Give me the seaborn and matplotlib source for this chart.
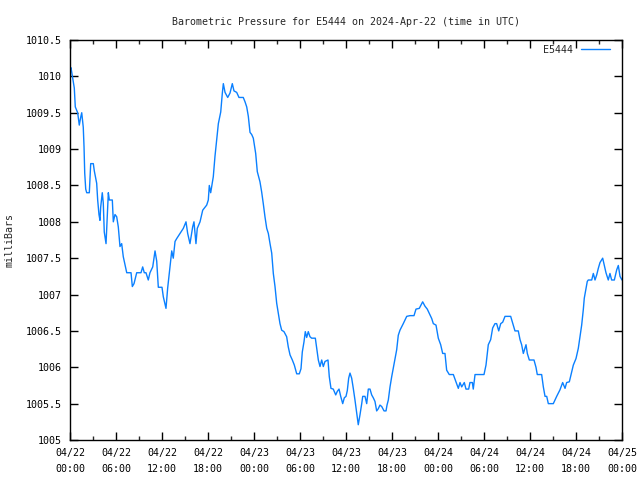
import matplotlib
matplotlib.use("Agg")
import matplotlib.pyplot as plt
import seaborn as sns
import pandas as pd

# hours since 2024-04-22 00:00 UTC
hours = [0.0, 0.13, 0.35, 0.56, 0.69, 1.0, 1.21, 1.4, 1.53, 1.73, 1.83, 1.92, 2.05, 2.18, 2.52, 2.61, 2.7, 3.04,
         3.17, 3.48, 3.61, 3.78, 3.91, 4.0, 4.21, 4.34, 4.47, 4.7, 4.92, 5.0, 5.13, 5.52, 5.65, 5.87, 6.09, 6.3,
         6.52, 6.74, 6.95, 7.17, 7.4, 7.96, 8.13, 8.35, 8.7, 9.26, 9.48, 9.69, 9.91, 10.21, 10.43, 10.79, 11.09,
         11.31, 11.44, 11.52, 12.0, 12.17, 12.52, 12.74, 13.04, 13.27, 13.47, 13.7, 13.92, 14.35, 14.78, 15.13,
         15.35, 15.65, 16.0, 16.17, 16.43, 16.6, 16.96, 17.31, 17.83, 18.04, 18.17, 18.35, 18.69, 18.91, 19.13,
         19.35, 19.66, 19.87, 20.0, 20.22, 20.57, 20.87, 21.17, 21.39, 21.74, 22.04, 22.6, 22.83, 23.05, 23.26,
         23.48, 23.7, 23.91, 24.22, 24.43, 24.78, 25.0, 25.21, 25.43, 25.66, 25.87, 26.09, 26.31, 26.52, 26.74,
         26.96, 27.17, 27.39, 27.61, 27.91, 28.26, 28.47, 28.7, 29.0, 29.26, 29.57, 29.91, 30.13, 30.3, 30.52,
         30.69, 30.87, 31.08, 31.3, 31.52, 32.0, 32.18, 32.39, 32.61, 32.83, 33.04, 33.26, 33.65, 33.82, 34.04,
         34.34, 34.66, 34.87, 35.09, 35.31, 35.57, 35.78, 36.0, 36.17, 36.35, 36.52, 36.74, 36.95, 37.17, 37.4,
         37.6, 37.83, 38.05, 38.18, 38.48, 38.7, 38.91, 39.13, 39.35, 39.56, 39.78, 40.0, 40.21, 40.43, 40.66,
         40.96, 41.22, 41.35, 41.52, 41.74, 41.96, 42.17, 42.39, 42.61, 42.82, 43.04, 43.47, 43.92, 44.35, 44.87,
         45.13, 45.56, 46.0, 46.3, 46.6, 46.96, 47.18, 47.39, 47.74, 48.04, 48.35, 48.61, 48.91, 49.13, 49.47,
         50.0, 50.35, 50.65, 50.87, 51.09, 51.43, 51.65, 52.0, 52.17, 52.48, 52.6, 52.83, 53.05, 54.0, 54.26,
         54.56, 54.87, 55.13, 55.43, 55.65, 55.92, 56.18, 56.44, 56.74, 57.48, 57.82, 58.04, 58.47, 58.7, 58.91,
         59.13, 59.48, 59.65, 59.91, 60.52, 60.78, 60.95, 61.52, 61.74, 61.96, 62.18, 62.39, 63.04, 63.26, 63.48,
         63.91, 64.26, 64.57, 64.78, 65.13, 65.44, 65.65, 66.0, 66.3, 66.52, 66.74, 66.95, 67.08, 67.26, 67.47,
         67.6, 68.05, 68.26, 68.48, 68.7, 68.91, 69.13, 69.48, 69.69, 69.91, 70.21, 70.43, 70.65, 71.0, 71.31,
         71.52, 71.74, 72.0]
pressure = [1010.1, 1010.12, 1009.98, 1009.84, 1009.58, 1009.5, 1009.33, 1009.44, 1009.5, 1009.3, 1009.03,
            1008.67, 1008.45, 1008.4, 1008.4, 1008.6, 1008.8, 1008.8, 1008.7, 1008.53, 1008.3, 1008.1, 1008.02,
            1008.2, 1008.4, 1008.26, 1007.86, 1007.7, 1008.2, 1008.4, 1008.3, 1008.3, 1008.0, 1008.1, 1008.07,
            1007.93, 1007.66, 1007.7, 1007.52, 1007.41, 1007.3, 1007.3, 1007.11, 1007.15, 1007.3, 1007.3, 1007.38,
            1007.3, 1007.3, 1007.2, 1007.3, 1007.38, 1007.6, 1007.46, 1007.25, 1007.1, 1007.1, 1006.97, 1006.81,
            1007.09, 1007.38, 1007.6, 1007.5, 1007.73, 1007.77, 1007.84, 1007.91, 1008.0, 1007.84, 1007.7, 1007.93,
            1008.0, 1007.7, 1007.91, 1008.0, 1008.16, 1008.23, 1008.3, 1008.5, 1008.4, 1008.62, 1008.9, 1009.13,
            1009.35, 1009.51, 1009.77, 1009.9, 1009.78, 1009.71, 1009.77, 1009.9, 1009.8, 1009.78, 1009.71,
            1009.71, 1009.65, 1009.58, 1009.45, 1009.23, 1009.2, 1009.15, 1008.94, 1008.69, 1008.55, 1008.41,
            1008.25, 1008.07, 1007.91, 1007.84, 1007.7, 1007.57, 1007.29, 1007.11, 1006.88, 1006.74, 1006.6,
            1006.51, 1006.49, 1006.42, 1006.28, 1006.17, 1006.1, 1006.03, 1005.91, 1005.91, 1005.98, 1006.21,
            1006.35, 1006.49, 1006.41, 1006.49, 1006.42, 1006.4, 1006.4, 1006.26, 1006.1, 1006.01, 1006.1, 1006.01,
            1006.08, 1006.1, 1005.87, 1005.71, 1005.7, 1005.62, 1005.67, 1005.7, 1005.6, 1005.5, 1005.58, 1005.6,
            1005.68, 1005.85, 1005.92, 1005.85, 1005.71, 1005.55, 1005.37, 1005.21, 1005.35, 1005.5, 1005.6,
            1005.6, 1005.5, 1005.7, 1005.7, 1005.62, 1005.58, 1005.53, 1005.4, 1005.43, 1005.48, 1005.46, 1005.4,
            1005.4, 1005.48, 1005.55, 1005.73, 1005.87, 1005.99, 1006.12, 1006.24, 1006.44, 1006.51, 1006.6,
            1006.7, 1006.71, 1006.71, 1006.8, 1006.81, 1006.9, 1006.84, 1006.8, 1006.72, 1006.67, 1006.6, 1006.58,
            1006.4, 1006.31, 1006.19, 1006.19, 1005.96, 1005.9, 1005.9, 1005.8, 1005.71, 1005.79, 1005.73, 1005.79,
            1005.7, 1005.7, 1005.79, 1005.79, 1005.7, 1005.9, 1005.9, 1005.9, 1006.03, 1006.31, 1006.38, 1006.54,
            1006.6, 1006.6, 1006.5, 1006.6, 1006.62, 1006.7, 1006.7, 1006.58, 1006.5, 1006.5, 1006.38, 1006.31,
            1006.19, 1006.31, 1006.19, 1006.1, 1006.1, 1006.0, 1005.9, 1005.9, 1005.73, 1005.6, 1005.6, 1005.5,
            1005.5, 1005.55, 1005.6, 1005.69, 1005.79, 1005.71, 1005.79, 1005.8, 1005.94, 1006.03, 1006.12,
            1006.26, 1006.42, 1006.58, 1006.79, 1006.95, 1007.06, 1007.18, 1007.2, 1007.2, 1007.29, 1007.2,
            1007.27, 1007.36, 1007.44, 1007.5, 1007.4, 1007.3, 1007.2, 1007.29, 1007.2, 1007.2, 1007.34, 1007.4,
            1007.25, 1007.2]

xtick_hours = [0, 6, 12, 18, 24, 30, 36, 42, 48, 54, 60, 66, 72]
xtick_labels = ["04/22\n00:00", "04/22\n06:00", "04/22\n12:00", "04/22\n18:00",
                "04/23\n00:00", "04/23\n06:00", "04/23\n12:00", "04/23\n18:00",
                "04/24\n00:00", "04/24\n06:00", "04/24\n12:00", "04/24\n18:00",
                "04/25\n00:00"]
ytick_values = [1005, 1005.5, 1006, 1006.5, 1007, 1007.5, 1008, 1008.5, 1009, 1009.5, 1010, 1010.5]
ytick_labels = ["1005", "1005.5", "1006", "1006.5", "1007", "1007.5", "1008", "1008.5",
                "1009", "1009.5", "1010", "1010.5"]
series_name = "E5444"
title = "Barometric Pressure for E5444 on 2024-Apr-22 (time in UTC)"

sns.set_style("ticks")
plt.rcParams["font.family"] = ["DejaVu Sans Mono", "DejaVu Sans"]
plt.rcParams["font.size"] = 7.2

df = pd.DataFrame({"hours": hours, "pressure": pressure})

fig = plt.figure(figsize=(6.4, 4.8), dpi=100)
ax = fig.add_axes([70 / 640, 1 - 440 / 480, 552 / 640, 400 / 480])
sns.lineplot(data=df, x="hours", y="pressure", ax=ax, color="#0a80ff", linewidth=1.0,
             label=series_name)

ax.set_xlim(0, 72)
ax.set_ylim(1005, 1010.5)
ax.set_xticks(xtick_hours)
ax.set_xticklabels(xtick_labels, linespacing=1.7)
ax.set_xticks([h + 3 for h in xtick_hours[:-1]], minor=True)
ax.set_yticks(ytick_values)
ax.set_yticklabels(ytick_labels)

for s in ax.spines.values():
    s.set_linewidth(1.0)
    s.set_color("black")
    s.set_visible(True)

ax.tick_params(axis="both", which="major", direction="in", length=6, width=1,
               top=True, right=True, color="black", labelcolor="black")
ax.tick_params(axis="x", which="minor", direction="in", length=3, width=1, top=True)
ax.tick_params(axis="x", which="major", pad=6)
ax.tick_params(axis="y", which="major", pad=6)

ax.set_xlabel("")
ax.set_ylabel("milliBars")
ax.yaxis.set_label_coords(-0.1, 0.5)
ax.set_title(title, pad=11, fontsize=7.2)

leg = ax.legend(loc="upper right", bbox_to_anchor=(1.0, 1.0 + 7 / 400), frameon=False,
                markerfirst=False, handlelength=2.9, handletextpad=0.8, borderaxespad=0.8,
                fontsize=7.2)

fig.savefig("out.png", dpi=100)
